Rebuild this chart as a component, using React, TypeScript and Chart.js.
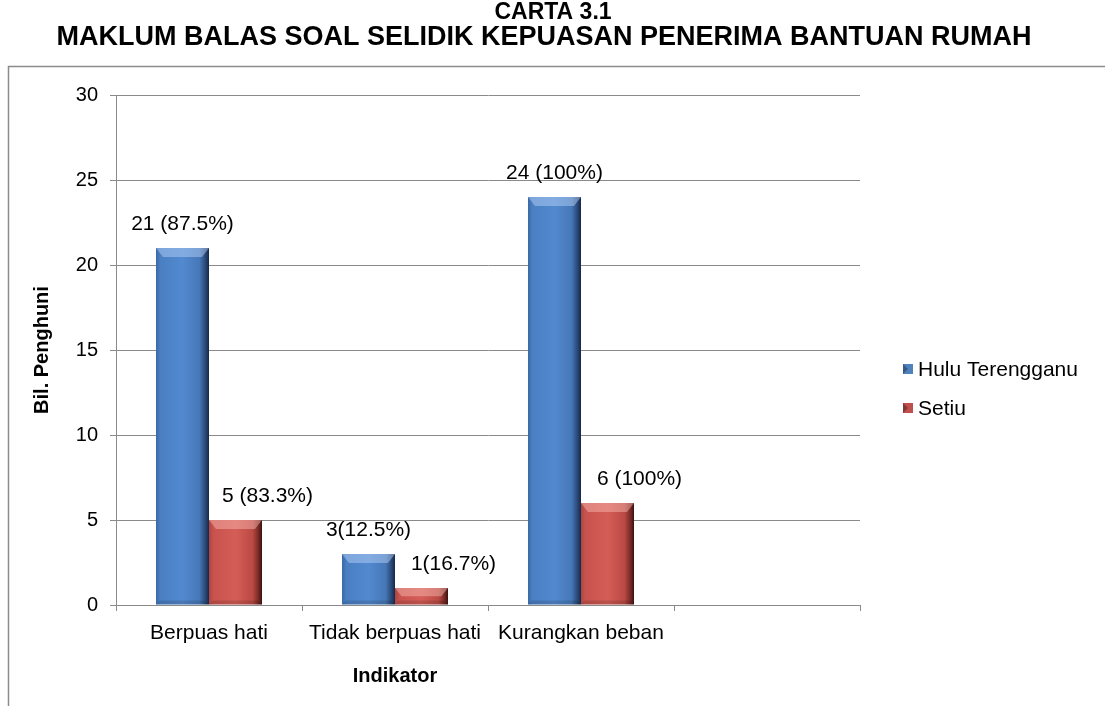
import React, { useEffect, useRef } from 'react';
import { Chart, registerables } from 'chart.js';

Chart.register(...registerables);

const TITLE_LINES = ['CARTA 3.1', 'MAKLUM BALAS SOAL SELIDIK KEPUASAN PENERIMA BANTUAN RUMAH'];
const CATEGORIES = ['Berpuas hati', 'Tidak berpuas hati', 'Kurangkan beban', ''];
const SERIES_NAMES = ['Hulu Terengganu', 'Setiu'];
const HULU_VALUES = [21, 3, 24, null];
const SETIU_VALUES = [5, 1, 6, null];
const HULU_LABELS = ['21 (87.5%)', '3(12.5%)', '24 (100%)', ''];
const SETIU_LABELS = ['5 (83.3%)', '1(16.7%)', '6 (100%)', ''];
const Y_MIN = 0;
const Y_MAX = 30;
const Y_STEP = 5;
const Y_TITLE = 'Bil. Penghuni';
const X_TITLE = 'Indikator';

const FONT = "'Liberation Sans', Arial, Helvetica, sans-serif";
const GRID = '#8a8a8a';

const PALETTE = [
  { stops: ['#3a68a5', '#4a7fc2', '#5289cf', '#4678b8', '#2b4a78', '#16274a'], legend: '#4f81bd', light: 'rgba(190,215,250,0.45)' },
  { stops: ['#ab4542', '#c8524d', '#d55d57', '#bb4a44', '#7a2a26', '#3a1210'], legend: '#c0504d', light: 'rgba(250,190,185,0.45)' },
];
const STOP_POS = [0, 0.08, 0.5, 0.82, 0.93, 1];

function barGradient(ctx: any, dsIndex: number) {
  const chart = ctx.chart;
  const fallback = PALETTE[dsIndex].legend;
  if (!chart.chartArea || !chart.scales || !chart.scales.x) return fallback;
  const x = chart.scales.x;
  const center = x.getPixelForValue(ctx.dataIndex);
  const catW = x.width / CATEGORIES.length;
  const barW = (catW * 0.57) / 2;
  const x0 = dsIndex === 0 ? center - barW : center;
  const x1 = x0 + barW;
  const g = chart.ctx.createLinearGradient(x0, 0, x1, 0);
  PALETTE[dsIndex].stops.forEach((c, i) => g.addColorStop(STOP_POS[i], c));
  return g;
}

const decorPlugin = {
  id: 'decor',
  beforeDraw(chart: any) {
    const c = chart.ctx;
    c.save();
    c.fillStyle = '#ffffff';
    c.fillRect(0, 0, chart.width, chart.height);
    c.strokeStyle = '#8c8c8c';
    c.lineWidth = 1.5;
    c.beginPath();
    c.moveTo(8.5, chart.height);
    c.lineTo(8.5, 66.5);
    c.lineTo(chart.width, 66.5);
    c.stroke();
    c.restore();
  },
  afterDatasetsDraw(chart: any) {
    const c = chart.ctx;
    chart.data.datasets.forEach((ds: any, di: number) => {
      const meta = chart.getDatasetMeta(di);
      meta.data.forEach((bar: any, i: number) => {
        if (ds.data[i] == null) return;
        const { x, y, base, width } = bar.getProps(['x', 'y', 'base', 'width'], true);
        const x0 = x - width / 2;
        const x1 = x + width / 2;
        const h = Math.min(9, (base - y) / 2);
        const inset = Math.min(7, h * 0.8);
        c.save();
        c.fillStyle = PALETTE[di].light;
        c.beginPath();
        c.moveTo(x0, y);
        c.lineTo(x1, y);
        c.lineTo(x1 - inset, y + h);
        c.lineTo(x0 + inset, y + h);
        c.closePath();
        c.fill();
        c.fillStyle = 'rgba(0,0,0,0.12)';
        c.beginPath();
        c.moveTo(x0, base);
        c.lineTo(x1, base);
        c.lineTo(x1 - 4, base - 4);
        c.lineTo(x0 + 4, base - 4);
        c.closePath();
        c.fill();
        c.restore();
      });
    });
  },
  afterDraw(chart: any) {
    const c = chart.ctx;
    c.save();
    c.fillStyle = '#000';
    c.textAlign = 'center';
    c.textBaseline = 'middle';
    c.font = `bold 23px ${FONT}`;
    c.fillText(TITLE_LINES[0], 553, 13);
    c.font = `bold 27px ${FONT}`;
    c.fillText(TITLE_LINES[1], 544, 38);

    const labelSets = [HULU_LABELS, SETIU_LABELS];
    const nudge = [0, 32];
    c.font = `21px ${FONT}`;
    chart.data.datasets.forEach((ds: any, di: number) => {
      const meta = chart.getDatasetMeta(di);
      meta.data.forEach((bar: any, i: number) => {
        const txt = labelSets[di][i];
        if (!txt || ds.data[i] == null) return;
        const { x, y } = bar.getProps(['x', 'y'], true);
        c.fillText(txt, x + nudge[di], y - 24);
      });
    });

    const xs = chart.scales.x;
    c.font = `bold 20px ${FONT}`;
    c.fillText(X_TITLE, xs.getPixelForValue(1), 676);

    c.textAlign = 'left';
    c.font = `21px ${FONT}`;
    const ly = [369, 408];
    chart.data.datasets.forEach((ds: any, di: number) => {
      const y = ly[di];
      c.fillStyle = PALETTE[di].legend;
      c.fillRect(903, y - 5, 10, 10);
      c.fillStyle = 'rgba(0,0,0,0.3)';
      c.beginPath();
      c.moveTo(903, y - 5);
      c.lineTo(908, y);
      c.lineTo(903, y + 5);
      c.closePath();
      c.fill();
      c.fillStyle = '#000';
      c.fillText(ds.label, 918, y + 1);
    });
    c.restore();
  },
};

export default function App() {
  const ref = useRef<HTMLCanvasElement | null>(null);
  useEffect(() => {
    if (!ref.current) return;
    const chart = new Chart(ref.current, {
      type: 'bar',
      data: {
        labels: CATEGORIES,
        datasets: [
          {
            label: SERIES_NAMES[0],
            data: HULU_VALUES,
            backgroundColor: (ctx: any) => barGradient(ctx, 0),
            borderWidth: 0,
            categoryPercentage: 0.57,
            barPercentage: 1,
          },
          {
            label: SERIES_NAMES[1],
            data: SETIU_VALUES,
            backgroundColor: (ctx: any) => barGradient(ctx, 1),
            borderWidth: 0,
            categoryPercentage: 0.57,
            barPercentage: 1,
          },
        ] as any,
      },
      options: {
        animation: false,
        responsive: false,
        maintainAspectRatio: false,
        layout: { padding: { top: 95, right: 245, bottom: 0, left: 26 } },
        plugins: {
          legend: { display: false },
          title: { display: false },
          tooltip: { enabled: false },
        },
        scales: {
          x: {
            afterFit: (s: any) => { s.height = 101; },
            grid: { drawOnChartArea: false, drawTicks: true, tickLength: 6, color: GRID, offset: true },
            border: { color: GRID, width: 1 },
            ticks: { color: '#000', font: { family: FONT, size: 21 }, padding: 10, maxRotation: 0, autoSkip: false },
          },
          y: {
            min: Y_MIN,
            max: Y_MAX,
            afterFit: (s: any) => { s.width = 90; },
            grid: { color: GRID, tickLength: 6, drawTicks: true },
            border: { color: GRID, width: 1 },
            ticks: { stepSize: Y_STEP, color: '#000', font: { family: FONT, size: 20 }, padding: 12 },
            title: { display: true, text: Y_TITLE, color: '#000', font: { family: FONT, size: 20, weight: 'bold' } },
          },
        },
      } as any,
      plugins: [decorPlugin],
    });
    return () => chart.destroy();
  }, []);
  return (
    <div style={{ position: 'absolute', left: 0, top: 0 }}>
      <canvas ref={ref} width={1105} height={706} style={{ display: 'block' }} />
    </div>
  );
}
